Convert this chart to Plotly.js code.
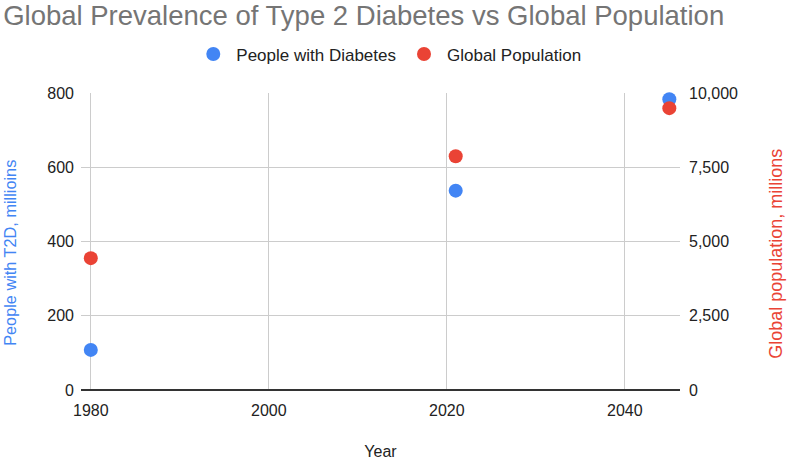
<!DOCTYPE html>
<html>
<head>
<meta charset="utf-8">
<script src="https://cdn.plot.ly/plotly-3.0.1.min.js"></script>
<style>html,body{margin:0;padding:0;background:#fff;}#chart{width:787px;height:460px;}</style>
</head>
<body>
<div id="chart"></div>
<script>
const years = [1980, 2021, 2045];
const diabetes = [108, 537, 783];
const population = [4440, 7870, 9490];
const xTicks = [1980, 2000, 2020, 2040];
const yLeftTicks = [0, 200, 400, 600, 800];
const yRightTicks = [0, 2500, 5000, 7500, 10000];

const font = '"Liberation Sans", Arial, sans-serif';
const traces = [
  {x: years, y: diabetes, name: 'People with Diabetes', type: 'scatter', mode: 'markers',
   marker: {color: '#4285F4', size: 14}, yaxis: 'y', cliponaxis: false},
  {x: years, y: population, name: 'Global Population', type: 'scatter', mode: 'markers',
   marker: {color: '#EA4335', size: 14}, yaxis: 'y2', cliponaxis: false}
];
const layout = {
  width: 787, height: 460,
  margin: {l: 81, r: 107, t: 93, b: 70},
  paper_bgcolor: '#fff', plot_bgcolor: '#fff',
  font: {family: font, color: '#222', size: 16},
  title: {text: 'Global Prevalence of Type 2 Diabetes vs Global Population',
    x: 0.004, xanchor: 'left', y: 0.966, yanchor: 'middle',
    font: {family: font, size: 27.5, color: '#757575'}},
  showlegend: true,
  legend: {orientation: 'h', x: 0.513, xanchor: 'center', y: 1.13, yanchor: 'middle',
    font: {family: font, size: 17, color: '#222'}, itemsizing: 'trace', itemwidth: 36},
  xaxis: {range: [1978.9, 2046.2], tickvals: xTicks, ticktext: xTicks.map(String),
    showgrid: true, gridcolor: '#cccccc', zeroline: false, showline: false,
    ticks: '', ticklabelstandoff: 9, tickfont: {size: 16, color: '#222'},
    title: {text: 'Year', font: {size: 16, color: '#222'}, standoff: 27}},
  yaxis: {range: [0, 800], tickvals: yLeftTicks, ticktext: yLeftTicks.map(String),
    showgrid: true, gridcolor: '#cccccc', zeroline: true, zerolinecolor: '#333', zerolinewidth: 1.5,
    ticks: '', ticklabelstandoff: 6, tickfont: {size: 16, color: '#222'}},
  yaxis2: {range: [0, 10000], tickvals: yRightTicks, ticktext: yRightTicks.map(v => v.toLocaleString('en-US')),
    overlaying: 'y', side: 'right', showgrid: false, zeroline: false,
    ticks: '', ticklabelstandoff: 8, tickfont: {size: 16, color: '#222'}},
  annotations: [
    {text: 'People with T2D, millioins', xref: 'paper', yref: 'paper', x: -0.1185, y: 0.462,
     xanchor: 'center', yanchor: 'middle', textangle: -90, showarrow: false,
     font: {family: font, size: 16.3, color: '#4285F4'}},
    {text: 'Global population, millions', xref: 'paper', yref: 'paper', x: 1.160, y: 0.458,
     xanchor: 'center', yanchor: 'middle', textangle: -90, showarrow: false,
     font: {family: font, size: 18, color: '#EA4335'}}
  ]
};
Plotly.newPlot('chart', traces, layout, {displayModeBar: false, staticPlot: true});
</script>
</body>
</html>
